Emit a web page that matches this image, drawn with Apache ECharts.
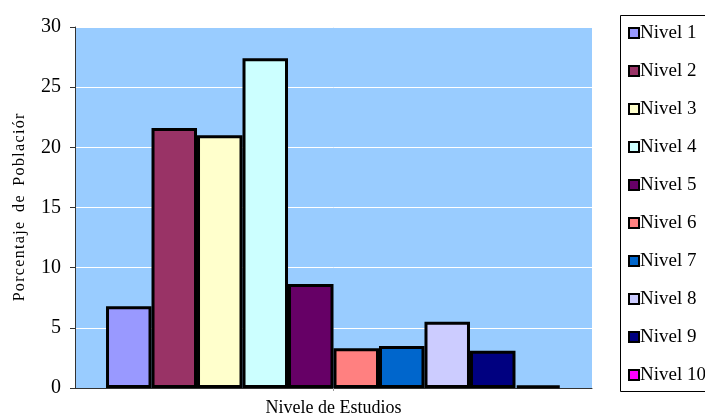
<!DOCTYPE html>
<html>
<head>
<meta charset="utf-8">
<script src="https://cdn.jsdelivr.net/npm/echarts@6/dist/echarts.min.js"></script>
<style>
  html, body { margin: 0; padding: 0; background: #fff; }
  #chart { width: 705px; height: 416px; }
</style>
</head>
<body>
<div id="chart"></div>
<script>
// Porcentaje de población por nivel de estudios
const categories = [''];
const seriesNames = ['Nivel 1', 'Nivel 2', 'Nivel 3', 'Nivel 4', 'Nivel 5',
                     'Nivel 6', 'Nivel 7', 'Nivel 8', 'Nivel 9', 'Nivel 10'];
const seriesValues = [6.8, 21.6, 21.0, 27.4, 8.65, 3.3, 3.5, 5.5, 3.1, 0.2];
const seriesColors = ['#9999FF', '#993366', '#FFFFCC', '#CCFFFF', '#660066',
                      '#FF8080', '#0066CC', '#CCCCFF', '#000080', '#FF00FF'];
const yTicks = [0, 5, 10, 15, 20, 25, 30];
const yTitle = 'Porcentaje de Poblaciór';
const xTitle = 'Nivele de Estudios';

const font = '"Liberation Serif", "Times New Roman", serif';

// widen the vertical title a little with hair spaces between letters
const spaced = s => s.split('').join('\u200A').replace(/ /g, '\u2009 ');

const chart = echarts.init(document.getElementById('chart'));

const series = seriesNames.map((name, i) => ({
  name: name,
  type: 'bar',
  data: [seriesValues[i]],
  barGap: '0%',
  barCategoryGap: '12%',
  itemStyle: { color: seriesColors[i], borderColor: '#000', borderWidth: 3 },
  emphasis: { disabled: true }
}));

chart.setOption({
  animation: false,
  backgroundColor: '#ffffff',
  grid: { left: 75, top: 27, right: 113, bottom: 28, show: true,
          outerBoundsMode: 'none', containLabel: false,
          backgroundColor: '#99CCFF', borderWidth: 0 },
  xAxis: {
    type: 'category',
    data: categories,
    name: xTitle,
    nameLocation: 'middle',
    nameGap: 11,
    nameTextStyle: { fontFamily: font, fontSize: 18, color: '#000', verticalAlign: 'top' },
    axisLine: { lineStyle: { color: '#333', width: 1 } },
    axisTick: { show: true, alignWithLabel: true, length: 3, lineStyle: { color: '#999' } },
    axisLabel: { show: false }
  },
  yAxis: {
    type: 'value',
    min: yTicks[0],
    max: yTicks[yTicks.length - 1],
    interval: 5,
    name: spaced(yTitle),
    nameLocation: 'middle',
    nameGap: 47,
    nameRotate: 90,
    nameTextStyle: { fontFamily: font, fontSize: 16, color: '#000' },
    axisLine: { show: true, lineStyle: { color: '#333', width: 1 } },
    axisTick: { show: true, length: 5, lineStyle: { color: '#333' } },
    axisLabel: { fontFamily: font, fontSize: 20, color: '#000', margin: 14 },
    splitLine: { show: true, lineStyle: { color: '#ffffff', width: 1 } }
  },
  legend: {
    orient: 'vertical',
    left: 628,
    top: 23,
    padding: 0,
    data: seriesNames,
    icon: 'rect',
    itemWidth: 10,
    itemHeight: 10,
    itemGap: 18,
    itemStyle: { borderColor: '#000', borderWidth: 2 },
    textStyle: { fontFamily: font, fontSize: 19, color: '#000', lineHeight: 20, padding: [0, 0, 0, -4] },
    selectedMode: false
  },
  graphic: [{
    type: 'rect',
    shape: { x: 620.5, y: 15.5, width: 90, height: 376 },
    style: { fill: 'none', stroke: '#000', lineWidth: 1 },
    silent: true
  }],
  series: series
});
</script>
</body>
</html>
